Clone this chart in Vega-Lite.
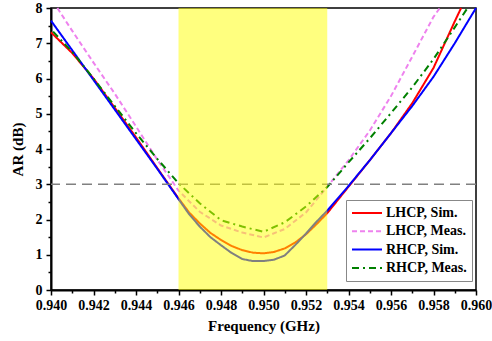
{
  "$schema": "https://vega.github.io/schema/vega-lite/v6.json",
  "width": 425,
  "height": 282,
  "autosize": "none",
  "padding": {"left": 51, "top": 8, "right": 16, "bottom": 51},
  "config": {
    "font": "Liberation Serif",
    "view": {"stroke": "#000", "strokeWidth": 1.5},
    "axis": {
      "labelFont": "Liberation Serif", "labelFontWeight": "bold", "labelFontSize": 14, "labelColor": "#000",
      "titleFont": "Liberation Serif", "titleFontWeight": "bold", "titleFontSize": 15, "titleColor": "#000",
      "domainColor": "#000", "domainWidth": 2, "tickColor": "#000", "tickWidth": 1.5,
      "grid": false, "labelFlush": false, "labelOverlap": false
    }
  },
  "datasets": {
    "curves": [
      {"s": "LHCP, Sim.", "f": 0.940, "ar": 7.31},
      {"s": "LHCP, Sim.", "f": 0.941, "ar": 6.72},
      {"s": "LHCP, Sim.", "f": 0.942, "ar": 6.0},
      {"s": "LHCP, Sim.", "f": 0.943, "ar": 5.17},
      {"s": "LHCP, Sim.", "f": 0.944, "ar": 4.33},
      {"s": "LHCP, Sim.", "f": 0.945, "ar": 3.46},
      {"s": "LHCP, Sim.", "f": 0.946, "ar": 2.6},
      {"s": "LHCP, Sim.", "f": 0.9465, "ar": 2.2},
      {"s": "LHCP, Sim.", "f": 0.947, "ar": 1.89},
      {"s": "LHCP, Sim.", "f": 0.9475, "ar": 1.62},
      {"s": "LHCP, Sim.", "f": 0.948, "ar": 1.42},
      {"s": "LHCP, Sim.", "f": 0.9485, "ar": 1.25},
      {"s": "LHCP, Sim.", "f": 0.949, "ar": 1.13},
      {"s": "LHCP, Sim.", "f": 0.9495, "ar": 1.06},
      {"s": "LHCP, Sim.", "f": 0.950, "ar": 1.04},
      {"s": "LHCP, Sim.", "f": 0.9505, "ar": 1.08},
      {"s": "LHCP, Sim.", "f": 0.951, "ar": 1.18},
      {"s": "LHCP, Sim.", "f": 0.9515, "ar": 1.35},
      {"s": "LHCP, Sim.", "f": 0.952, "ar": 1.58},
      {"s": "LHCP, Sim.", "f": 0.9525, "ar": 1.87},
      {"s": "LHCP, Sim.", "f": 0.953, "ar": 2.18},
      {"s": "LHCP, Sim.", "f": 0.954, "ar": 2.93},
      {"s": "LHCP, Sim.", "f": 0.955, "ar": 3.68},
      {"s": "LHCP, Sim.", "f": 0.956, "ar": 4.45},
      {"s": "LHCP, Sim.", "f": 0.957, "ar": 5.3},
      {"s": "LHCP, Sim.", "f": 0.958, "ar": 6.3},
      {"s": "LHCP, Sim.", "f": 0.959, "ar": 7.62},
      {"s": "LHCP, Sim.", "f": 0.9593, "ar": 8.0},

      {"s": "LHCP, Meas.", "f": 0.9403, "ar": 8.0},
      {"s": "LHCP, Meas.", "f": 0.941, "ar": 7.35},
      {"s": "LHCP, Meas.", "f": 0.942, "ar": 6.45},
      {"s": "LHCP, Meas.", "f": 0.943, "ar": 5.57},
      {"s": "LHCP, Meas.", "f": 0.944, "ar": 4.64},
      {"s": "LHCP, Meas.", "f": 0.945, "ar": 3.7},
      {"s": "LHCP, Meas.", "f": 0.946, "ar": 2.82},
      {"s": "LHCP, Meas.", "f": 0.947, "ar": 2.22},
      {"s": "LHCP, Meas.", "f": 0.948, "ar": 1.83},
      {"s": "LHCP, Meas.", "f": 0.949, "ar": 1.63},
      {"s": "LHCP, Meas.", "f": 0.950, "ar": 1.49},
      {"s": "LHCP, Meas.", "f": 0.951, "ar": 1.73},
      {"s": "LHCP, Meas.", "f": 0.952, "ar": 2.2},
      {"s": "LHCP, Meas.", "f": 0.953, "ar": 2.93},
      {"s": "LHCP, Meas.", "f": 0.954, "ar": 3.68},
      {"s": "LHCP, Meas.", "f": 0.955, "ar": 4.52},
      {"s": "LHCP, Meas.", "f": 0.956, "ar": 5.5},
      {"s": "LHCP, Meas.", "f": 0.957, "ar": 6.62},
      {"s": "LHCP, Meas.", "f": 0.958, "ar": 7.75},
      {"s": "LHCP, Meas.", "f": 0.9583, "ar": 8.0},

      {"s": "RHCP, Sim.", "f": 0.940, "ar": 7.64},
      {"s": "RHCP, Sim.", "f": 0.941, "ar": 6.8},
      {"s": "RHCP, Sim.", "f": 0.942, "ar": 5.96},
      {"s": "RHCP, Sim.", "f": 0.943, "ar": 5.12},
      {"s": "RHCP, Sim.", "f": 0.944, "ar": 4.28},
      {"s": "RHCP, Sim.", "f": 0.945, "ar": 3.44},
      {"s": "RHCP, Sim.", "f": 0.946, "ar": 2.58},
      {"s": "RHCP, Sim.", "f": 0.9465, "ar": 2.15},
      {"s": "RHCP, Sim.", "f": 0.947, "ar": 1.8},
      {"s": "RHCP, Sim.", "f": 0.9475, "ar": 1.5},
      {"s": "RHCP, Sim.", "f": 0.948, "ar": 1.27},
      {"s": "RHCP, Sim.", "f": 0.9485, "ar": 1.05},
      {"s": "RHCP, Sim.", "f": 0.949, "ar": 0.88},
      {"s": "RHCP, Sim.", "f": 0.9495, "ar": 0.82},
      {"s": "RHCP, Sim.", "f": 0.950, "ar": 0.82},
      {"s": "RHCP, Sim.", "f": 0.9505, "ar": 0.86},
      {"s": "RHCP, Sim.", "f": 0.951, "ar": 0.98},
      {"s": "RHCP, Sim.", "f": 0.9515, "ar": 1.28},
      {"s": "RHCP, Sim.", "f": 0.952, "ar": 1.6},
      {"s": "RHCP, Sim.", "f": 0.9525, "ar": 1.94},
      {"s": "RHCP, Sim.", "f": 0.953, "ar": 2.25},
      {"s": "RHCP, Sim.", "f": 0.954, "ar": 2.95},
      {"s": "RHCP, Sim.", "f": 0.955, "ar": 3.68},
      {"s": "RHCP, Sim.", "f": 0.956, "ar": 4.45},
      {"s": "RHCP, Sim.", "f": 0.957, "ar": 5.22},
      {"s": "RHCP, Sim.", "f": 0.958, "ar": 6.05},
      {"s": "RHCP, Sim.", "f": 0.959, "ar": 7.0},
      {"s": "RHCP, Sim.", "f": 0.960, "ar": 8.0},

      {"s": "RHCP, Meas.", "f": 0.9401, "ar": 7.33},
      {"s": "RHCP, Meas.", "f": 0.941, "ar": 6.75},
      {"s": "RHCP, Meas.", "f": 0.942, "ar": 6.0},
      {"s": "RHCP, Meas.", "f": 0.943, "ar": 5.22},
      {"s": "RHCP, Meas.", "f": 0.944, "ar": 4.45},
      {"s": "RHCP, Meas.", "f": 0.945, "ar": 3.72},
      {"s": "RHCP, Meas.", "f": 0.946, "ar": 3.03},
      {"s": "RHCP, Meas.", "f": 0.947, "ar": 2.46},
      {"s": "RHCP, Meas.", "f": 0.948, "ar": 1.98},
      {"s": "RHCP, Meas.", "f": 0.949, "ar": 1.8},
      {"s": "RHCP, Meas.", "f": 0.950, "ar": 1.65},
      {"s": "RHCP, Meas.", "f": 0.951, "ar": 1.92},
      {"s": "RHCP, Meas.", "f": 0.952, "ar": 2.37},
      {"s": "RHCP, Meas.", "f": 0.953, "ar": 2.92},
      {"s": "RHCP, Meas.", "f": 0.954, "ar": 3.62},
      {"s": "RHCP, Meas.", "f": 0.955, "ar": 4.3},
      {"s": "RHCP, Meas.", "f": 0.956, "ar": 5.02},
      {"s": "RHCP, Meas.", "f": 0.957, "ar": 5.75},
      {"s": "RHCP, Meas.", "f": 0.958, "ar": 6.55},
      {"s": "RHCP, Meas.", "f": 0.959, "ar": 7.45},
      {"s": "RHCP, Meas.", "f": 0.9596, "ar": 8.0}
    ]
  },
  "layer": [
    {
      "data": {"name": "curves"},
      "mark": {"type": "line", "strokeWidth": 2},
      "encoding": {
        "x": {
          "field": "f", "type": "quantitative",
          "scale": {"domain": [0.94, 0.96], "nice": false, "zero": false},
          "axis": {
            "title": "Frequency (GHz)",
            "values": [0.940, 0.941, 0.942, 0.943, 0.944, 0.945, 0.946, 0.947, 0.948, 0.949, 0.950, 0.951, 0.952, 0.953, 0.954, 0.955, 0.956, 0.957, 0.958, 0.959, 0.960],
            "labelExpr": "round(datum.value*1000) % 2 === 0 ? format(datum.value, '.3f') : ''",
            "tickSize": {"condition": {"test": "round(datum.value*1000) % 2 !== 0", "value": 3}, "value": 5},
            "labelPadding": 3,
            "titlePadding": 6
          }
        },
        "y": {
          "field": "ar", "type": "quantitative",
          "scale": {"domain": [0, 8], "nice": false},
          "axis": {
            "title": "AR (dB)",
            "values": [0, 0.5, 1, 1.5, 2, 2.5, 3, 3.5, 4, 4.5, 5, 5.5, 6, 6.5, 7, 7.5, 8],
            "labelExpr": "datum.value % 1 === 0 ? format(datum.value, 'd') : ''",
            "tickSize": {"condition": {"test": "datum.value % 1 !== 0", "value": 3}, "value": 5},
            "labelPadding": 4,
            "titlePadding": 10
          }
        },
        "color": {
          "field": "s", "type": "nominal",
          "scale": {
            "domain": ["LHCP, Sim.", "LHCP, Meas.", "RHCP, Sim.", "RHCP, Meas."],
            "range": ["#ff0000", "#ee82ee", "#0000ff", "#008000"]
          },
          "legend": {
            "title": null, "orient": "none", "legendX": 295, "legendY": 192,
            "symbolType": "stroke", "symbolSize": 900, "symbolStrokeWidth": 2,
            "strokeColor": "#888888", "fillColor": "#ffffff", "padding": 5,
            "clipHeight": 16, "rowPadding": 2.3, "labelOffset": 3,
            "labelFont": "Liberation Serif", "labelFontWeight": "bold", "labelFontSize": 14, "labelColor": "#000"
          }
        },
        "strokeDash": {
          "field": "s", "type": "nominal",
          "scale": {
            "domain": ["LHCP, Sim.", "LHCP, Meas.", "RHCP, Sim.", "RHCP, Meas."],
            "range": [[1, 0], [5, 3], [1, 0], [7, 4, 2, 4]]
          },
          "legend": {
            "title": null, "orient": "none", "legendX": 295, "legendY": 192,
            "symbolType": "stroke", "symbolSize": 900, "symbolStrokeWidth": 2,
            "strokeColor": "#888888", "fillColor": "#ffffff", "padding": 5,
            "clipHeight": 16, "rowPadding": 2.3, "labelOffset": 3,
            "labelFont": "Liberation Serif", "labelFontWeight": "bold", "labelFontSize": 14, "labelColor": "#000"
          }
        }
      }
    },
    {
      "data": {"values": [{}]},
      "mark": {"type": "rule", "color": "#808080", "strokeWidth": 1.5, "strokeDash": [10, 6]},
      "encoding": {
        "y": {
          "datum": 3, "type": "quantitative",
          "axis": {
            "title": "AR (dB)",
            "values": [0, 0.5, 1, 1.5, 2, 2.5, 3, 3.5, 4, 4.5, 5, 5.5, 6, 6.5, 7, 7.5, 8],
            "labelExpr": "datum.value % 1 === 0 ? format(datum.value, 'd') : ''",
            "tickSize": {"condition": {"test": "datum.value % 1 !== 0", "value": 3}, "value": 5},
            "labelPadding": 4,
            "titlePadding": 10
          }
        }
      }
    },
    {
      "data": {"values": [{}]},
      "mark": {"type": "rect", "color": "#ffff00", "opacity": 0.5},
      "encoding": {
        "x": {
          "datum": 0.946, "type": "quantitative",
          "axis": {
            "title": "Frequency (GHz)",
            "values": [0.940, 0.941, 0.942, 0.943, 0.944, 0.945, 0.946, 0.947, 0.948, 0.949, 0.950, 0.951, 0.952, 0.953, 0.954, 0.955, 0.956, 0.957, 0.958, 0.959, 0.960],
            "labelExpr": "round(datum.value*1000) % 2 === 0 ? format(datum.value, '.3f') : ''",
            "tickSize": {"condition": {"test": "round(datum.value*1000) % 2 !== 0", "value": 3}, "value": 5},
            "labelPadding": 3,
            "titlePadding": 6
          }
        },
        "x2": {"datum": 0.953}
      }
    }
  ]
}
